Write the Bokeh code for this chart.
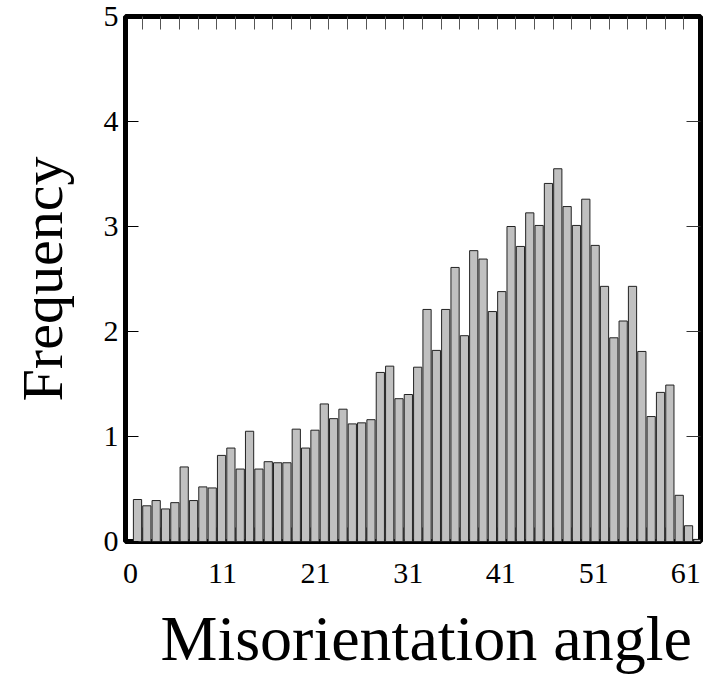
import math
from bokeh.plotting import figure
from bokeh.models import LinearAxis, FixedTicker, Range1d, ColumnDataSource, Title
from bokeh.embed import file_html
from bokeh.resources import INLINE

# Data: frequency per 1-degree bin (61 bins)
freq = [0.40, 0.34, 0.39, 0.31, 0.37, 0.71, 0.39, 0.52, 0.51, 0.82,
        0.89, 0.69, 1.05, 0.69, 0.76, 0.75, 0.75, 1.07, 0.89, 1.06,
        1.31, 1.17, 1.26, 1.12, 1.13, 1.16, 1.61, 1.67, 1.36, 1.40,
        1.66, 2.21, 1.82, 2.21, 2.61, 1.96, 2.77, 2.69, 2.19, 2.38,
        3.00, 2.81, 3.13, 3.01, 3.41, 3.55, 3.19, 3.01, 3.26, 2.82,
        2.43, 1.94, 2.10, 2.43, 1.81, 1.19, 1.42, 1.49, 0.44, 0.15, 0.02]
bin_center = [i + 0.5 for i in range(len(freq))]

x_tick_pos = [-0.25, 9.6, 19.55, 29.5, 39.4, 49.35, 59.2]
x_tick_labels = ["0", "11", "21", "31", "41", "51", "61"]
x_minor = [2 * k + 1 for k in range(30)]
y_ticks = [0, 1, 2, 3, 4, 5]
y_inner = [1, 2, 3, 4]

FONT = "Liberation Serif"

p = figure(width=705, height=677, output_backend="svg", toolbar_location=None,
           x_range=Range1d(-0.785, 60.78), y_range=Range1d(0, 5),
           x_axis_type=None, y_axis_type=None,
           min_border_left=125, min_border_right=5,
           min_border_top=16, min_border_bottom=136)
p.xgrid.visible = False
p.ygrid.visible = False
p.background_fill_color = "white"
p.border_fill_color = "white"
p.outline_line_color = "black"
p.outline_line_width = 5

src = ColumnDataSource(dict(x=bin_center, top=freq))
p.vbar(x="x", top="top", bottom=0, width=0.88, source=src,
       fill_color="#c0c0c0", line_color="#222222", line_width=1)

# bottom axis
bx = LinearAxis(ticker=FixedTicker(ticks=x_tick_pos, minor_ticks=x_minor))
bx.major_label_overrides = {t: l for t, l in zip(x_tick_pos, x_tick_labels)}
bx.axis_line_color = None
bx.major_tick_in = 0
bx.major_tick_out = 0
bx.minor_tick_in = 14
bx.minor_tick_out = 0
bx.minor_tick_line_color = "#333333"
bx.major_label_text_font = FONT
bx.major_label_text_font_size = "30px"
bx.major_label_text_color = "black"
bx.major_label_standoff = 22
p.add_layout(bx, "below")

# spacer axis (invisible white tick, no drawn label) to push the title down
sp = LinearAxis(ticker=FixedTicker(ticks=[0.0], minor_ticks=[]))
sp.axis_line_color = None
sp.major_tick_in = 0
sp.major_tick_out = 15
sp.major_tick_line_color = "white"
sp.major_tick_line_alpha = 0.0
sp.minor_tick_in = 0
sp.minor_tick_out = 0
sp.major_label_standoff = 0
sp.major_label_text_font_size = "1px"
sp.major_label_text_color = None
p.add_layout(sp, "below")

# top axis (ticks only)
tx = LinearAxis(ticker=FixedTicker(ticks=[], minor_ticks=x_minor))
tx.axis_line_color = None
tx.major_tick_in = 0
tx.major_tick_out = 0
tx.minor_tick_in = 13
tx.minor_tick_out = 0
tx.minor_tick_line_color = "#555555"
p.add_layout(tx, "above")

# left axis
ly = LinearAxis(ticker=FixedTicker(ticks=y_ticks))
ly.axis_line_color = None
ly.major_tick_in = 13
ly.major_tick_out = 0
ly.major_tick_line_color = "black"
ly.minor_tick_line_color = None
ly.major_label_text_font = FONT
ly.major_label_text_font_size = "30px"
ly.major_label_text_color = "black"
ly.major_label_standoff = 7
ly.axis_label = "Frequency"
ly.axis_label_text_font = FONT
ly.axis_label_text_font_size = "58px"
ly.axis_label_text_font_style = "normal"
ly.axis_label_text_color = "black"
ly.axis_label_standoff = 26
p.add_layout(ly, "left")

# right axis (ticks only)
ry = LinearAxis(ticker=FixedTicker(ticks=[], minor_ticks=y_inner))
ry.axis_line_color = None
ry.major_tick_in = 0
ry.major_tick_out = 0
ry.minor_tick_in = 14
ry.minor_tick_out = 0
ry.minor_tick_line_color = "#333333"
p.add_layout(ry, "right")

xt = Title(text="Misorientation angle", align="left", offset=35,
           text_font=FONT, text_font_size="64px", text_font_style="normal",
           text_color="black", standoff=0)
p.add_layout(xt, "below")

open("out.html", "w").write(file_html(p, INLINE))
